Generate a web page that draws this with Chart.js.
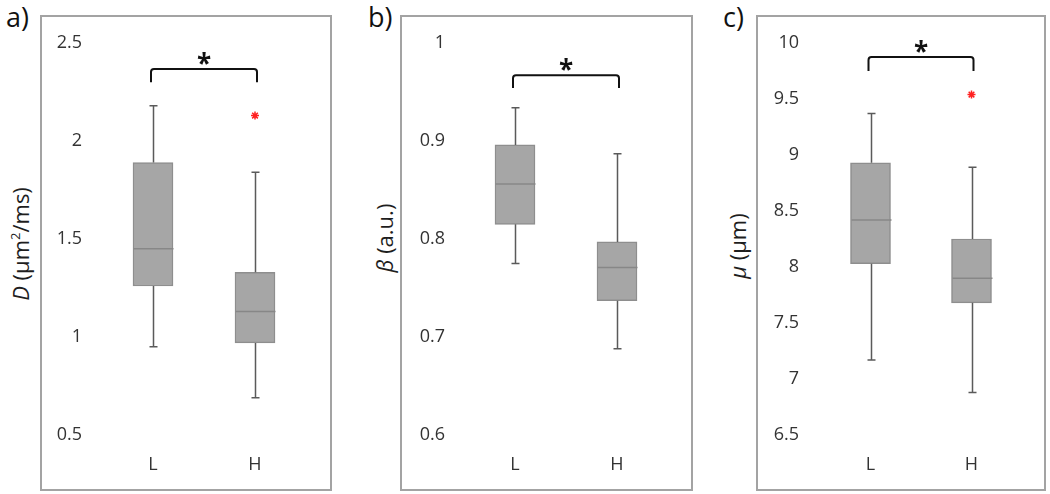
<!DOCTYPE html>
<html>
<head>
<meta charset="utf-8">
<script src="https://cdn.jsdelivr.net/npm/chart.js@4/dist/chart.umd.min.js"></script>
<style>
  body { margin: 0; background: #fff; width: 1050px; height: 494px; position: relative; overflow: hidden; font-family: "Open Sans", sans-serif; }
  .panel { position: absolute; top: 15px; height: 476px; box-sizing: border-box; border: 2px solid #a3a3a3; }
  .panel canvas { position: absolute; left: 0; top: 0; }
  .tag { position: absolute; top: -2px; font-size: 27px; color: #111; }
  .ytitle { position: absolute; font-size: 22px; color: #1e1e1e; white-space: nowrap; transform: translate(-50%, -50%) rotate(-90deg); }
  .ytitle sup { font-size: 13px; vertical-align: 9px; line-height: 0; }
</style>
</head>
<body>
<div class="tag" style="left:6px">a)</div>
<div class="tag" style="left:368px">b)</div>
<div class="tag" style="left:723px">c)</div>
<div class="ytitle" style="left:20px; top:244px"><i>D</i> (µm<sup>2</sup>/ms)</div>
<div class="ytitle" style="left:384px; top:238px"><i>β</i> (a.u.)</div>
<div class="ytitle" style="left:737px; top:246px"><i>µ</i> (µm)</div>

<div class="panel" style="left:40px; width:292px"><canvas id="chartD" width="288" height="472"></canvas></div>
<div class="panel" style="left:400px; width:293px"><canvas id="chartB" width="289" height="472"></canvas></div>
<div class="panel" style="left:756px; width:290px"><canvas id="chartM" width="286" height="472"></canvas></div>

<script>
// groups on the x axis
const groups = ['L', 'H'];

// a) D (um^2/ms)
const dMin = [0.95, 0.69];
const dQ1 = [1.26, 0.97];
const dMed = [1.45, 1.13];
const dQ3 = [1.89, 1.33];
const dMax = [2.18, 1.84];
const dOut = [null, 2.13];
const dTicks = [0.5, 1, 1.5, 2, 2.5];

// b) beta (a.u.)
const bMin = [0.775, 0.688];
const bQ1 = [0.815, 0.737];
const bMed = [0.856, 0.771];
const bQ3 = [0.896, 0.797];
const bMax = [0.934, 0.887];
const bOut = [null, null];
const bTicks = [0.6, 0.7, 0.8, 0.9, 1];

// c) mu (um)
const mMin = [7.17, 6.88];
const mQ1 = [8.03, 7.68];
const mMed = [8.42, 7.90];
const mQ3 = [8.93, 8.25];
const mMax = [9.37, 8.89];
const mOut = [null, 9.54];
const mTicks = [6.5, 7, 7.5, 8, 8.5, 9, 9.5, 10];

// significance bracket level (top, foot) in data units
const dSig = [2.367, 2.30];
const bSig = [0.967, 0.954];
const mSig = [9.875, 9.75];

const tickFont = { family: '"Open Sans", sans-serif', size: 18 };
const tickColor = '#333';

// whiskers, medians and the bracket, all placed through the chart scales
const boxExtras = {
  id: 'boxExtras',
  afterDatasetsDraw(chart, args, o) {
    const ctx = chart.ctx;
    const x = chart.scales.x, y = chart.scales.y;
    ctx.save();
    o.max.forEach(function(mx, i) {
      const cx = Math.round(x.getPixelForValue(i)) + 0.5;
      const yMax = y.getPixelForValue(mx), yMin = y.getPixelForValue(o.min[i]);
      const yQ3 = y.getPixelForValue(o.q3[i]), yQ1 = y.getPixelForValue(o.q1[i]);
      ctx.strokeStyle = '#5a5a5a';
      ctx.lineWidth = 1.5;
      ctx.beginPath();
      ctx.moveTo(cx, yQ3); ctx.lineTo(cx, yMax);
      ctx.moveTo(cx - 4, yMax); ctx.lineTo(cx + 4, yMax);
      ctx.moveTo(cx, yQ1); ctx.lineTo(cx, yMin);
      ctx.moveTo(cx - 4, yMin); ctx.lineTo(cx + 4, yMin);
      ctx.stroke();
      // median
      const yM = y.getPixelForValue(o.med[i]);
      ctx.strokeStyle = '#878787';
      ctx.beginPath();
      ctx.moveTo(cx - 20, yM); ctx.lineTo(cx + 20, yM);
      ctx.stroke();
    });
    // bracket
    const x1 = x.getPixelForValue(0) - 2, x2 = x.getPixelForValue(1) + 2;
    const yt = y.getPixelForValue(o.sig[0]), yf = y.getPixelForValue(o.sig[1]);
    const r = 3;
    ctx.strokeStyle = '#111';
    ctx.lineWidth = 2;
    ctx.beginPath();
    ctx.moveTo(x1, yf);
    ctx.lineTo(x1, yt + r);
    ctx.arcTo(x1, yt, x1 + r, yt, r);
    ctx.lineTo(x2 - r, yt);
    ctx.arcTo(x2, yt, x2, yt + r, r);
    ctx.lineTo(x2, yf);
    ctx.stroke();
    ctx.fillStyle = '#111';
    ctx.font = 'bold 26px "Open Sans", sans-serif';
    ctx.textAlign = 'center';
    ctx.textBaseline = 'alphabetic';
    ctx.fillText('*', (x1 + x2) / 2, yt + 4);
    ctx.restore();
  }
};

function makeBox(id, q1, q3, extras, outliers, ticks, axisW, tickPad, padRight) {
  const tickMin = ticks[0], tickMax = ticks[ticks.length - 1];
  return new Chart(document.getElementById(id), {
    type: 'bar',
    data: {
      labels: groups,
      datasets: [{
        data: q1.map(function(v, i) { return [v, q3[i]]; }),
        backgroundColor: '#a6a6a6',
        borderColor: '#8e8e8e',
        borderWidth: 1.5,
        borderSkipped: false,
        barThickness: 40
      }, {
        type: 'line',
        data: outliers,
        showLine: false,
        pointStyle: 'star',
        pointRadius: 4,
        pointBorderColor: '#ff2020',
        pointBackgroundColor: '#ff2020',
        pointBorderWidth: 1.5
      }]
    },
    options: {
      responsive: false,
      animation: false,
      layout: { padding: { top: 26, right: padRight, left: 0, bottom: 0 } },
      plugins: {
        legend: { display: false },
        tooltip: { enabled: false },
        boxExtras: extras
      },
      scales: {
        x: {
          grid: { display: false, drawTicks: false },
          border: { display: false },
          ticks: { font: tickFont, color: tickColor, padding: 19 },
          afterFit: function(s) { s.height = 54; s.paddingLeft = 0; s.paddingRight = 0; }
        },
        y: {
          min: tickMin,
          max: tickMax,
          afterBuildTicks: function(s) { s.ticks = ticks.map(function(v) { return { value: v }; }); },
          grid: { display: false, drawTicks: false },
          border: { display: false },
          ticks: {
            font: tickFont, color: tickColor, padding: tickPad,
            callback: function(v) { return String(Number(v.toFixed(3))); }
          },
          afterFit: function(s) { s.width = axisW; s.paddingTop = 0; s.paddingBottom = 0; }
        }
      }
    },
    plugins: [boxExtras]
  });
}

makeBox('chartD', dQ1, dQ3, { min: dMin, q1: dQ1, med: dMed, q3: dQ3, max: dMax, sig: dSig }, dOut, dTicks, 60, 20, 24);
makeBox('chartB', bQ1, bQ3, { min: bMin, q1: bQ1, med: bMed, q3: bQ3, max: bMax, sig: bSig }, bOut, bTicks, 62, 19, 23);
makeBox('chartM', mQ1, mQ3, { min: mMin, q1: mQ1, med: mMed, q3: mQ3, max: mMax, sig: mSig }, mOut, mTicks, 62, 21, 22);
</script>
</body>
</html>
